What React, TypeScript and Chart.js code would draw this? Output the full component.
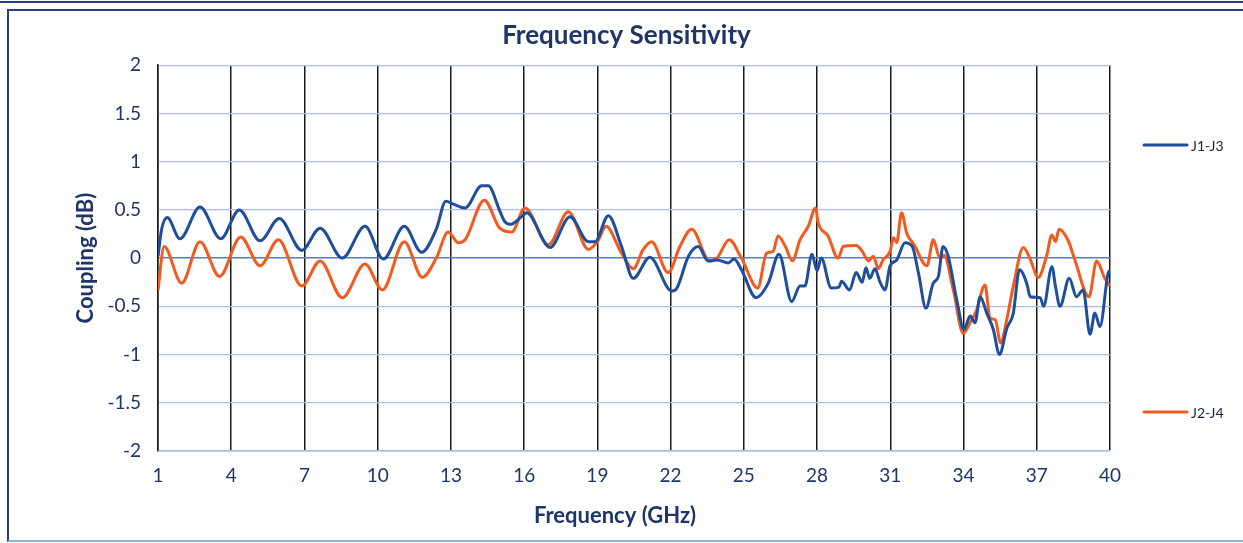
import React, { useEffect, useRef } from "react";
import { Chart, registerables } from "chart.js";

Chart.register(...registerables);

const chartTitle = "Frequency Sensitivity";
const xAxisTitle = "Frequency (GHz)";
const yAxisTitle = "Coupling (dB)";
const xTicks = [1, 4, 7, 10, 13, 16, 19, 22, 25, 28, 31, 34, 37, 40];
const yMin = -2;
const yMax = 2;
const yStep = 0.5;

const j13Label = "J1-J3";
const j13Freq = [
  1.0, 1.15, 1.38, 1.9, 2.72, 3.57, 4.33, 5.18, 5.97, 6.89, 7.64, 8.55, 9.48, 10.23, 11.09, 11.8,
  12.4, 12.79, 13.1, 13.58, 14.26, 14.53, 15.0, 15.2, 15.42, 15.9, 16.1, 17.06, 17.88, 18.63,
  18.9, 19.45, 19.99, 20.47, 21.15, 22.04, 22.2, 22.73, 23.13, 23.54, 23.9, 24.36, 24.6, 24.9,
  25.5, 26.0, 26.44, 26.96, 27.3, 27.5, 27.79, 28.0, 28.17, 28.58, 28.9, 29.0, 29.33, 29.6,
  29.85, 30.0, 30.16, 30.37, 30.58, 30.78, 30.99, 31.26, 31.6, 31.9, 32.15, 32.46, 32.76, 32.97,
  33.16, 33.37, 33.72, 34.02, 34.27, 34.47, 34.68, 34.95, 35.22, 35.47, 35.77, 36.04, 36.29,
  36.6, 36.73, 37.14, 37.28, 37.62, 37.77, 37.95, 38.33, 38.63, 38.9, 39.18, 39.38, 39.59,
  39.93, 40.0,
];
const j13Coupling = [
  0.02, 0.3, 0.42, 0.2, 0.53, 0.2, 0.5, 0.18, 0.41, 0.08, 0.31, 0.0, 0.33, -0.01, 0.33, 0.06,
  0.3, 0.59, 0.56, 0.52, 0.75, 0.75, 0.49, 0.38, 0.35, 0.43, 0.47, 0.11, 0.43, 0.17,
  0.17, 0.44, 0.12, -0.21, 0.01, -0.34, -0.33, 0.02, 0.12, -0.03, -0.02, -0.05, -0.01, -0.12,
  -0.41, -0.26, 0.04, -0.45, -0.29, -0.29, 0.04, -0.13, 0.0, -0.31, -0.3, -0.24, -0.33, -0.15,
  -0.25, -0.1, -0.21, -0.11, -0.25, -0.33, -0.08, -0.02, 0.16, 0.12, -0.15, -0.52, -0.26, -0.19,
  0.12, 0.02, -0.43, -0.74, -0.6, -0.67, -0.4, -0.57, -0.74, -1.0, -0.73, -0.57, -0.12,
  -0.27, -0.4, -0.41, -0.5, -0.09, -0.3, -0.5, -0.21, -0.4, -0.33, -0.79, -0.57, -0.71,
  -0.15, -0.13,
];

const j24Label = "J2-J4";
const j24Freq = [
  1.0, 1.25, 1.97, 2.72, 3.52, 4.39, 5.18, 5.93, 6.89, 7.64, 8.55, 9.48, 10.19, 11.09, 11.83,
  12.4, 12.89, 13.3, 13.58, 14.37, 15.0, 15.49, 16.03, 16.99, 17.81, 18.63, 19.0, 19.36, 19.95,
  20.47, 20.88, 21.22, 21.9, 22.38, 22.86, 23.6, 23.9, 24.4, 24.9, 25.57, 25.93, 26.2, 26.4,
  26.7, 26.99, 27.3, 27.64, 27.94, 28.04, 28.45, 28.86, 29.07, 29.6, 29.85, 30.1, 30.3, 30.51,
  30.7, 30.99, 31.13, 31.26, 31.46, 31.67, 31.97, 32.5, 32.76, 33.03, 33.2, 33.58, 33.99,
  34.27, 34.52, 34.88, 35.08, 35.3, 35.52, 35.77, 36.04, 36.45, 36.73, 37.06, 37.4, 37.62,
  37.77, 37.91, 38.29, 38.56, 39.14, 39.45, 39.79, 40.0,
];
const j24Coupling = [
  -0.33, 0.12, -0.26, 0.17, -0.19, 0.22, -0.08, 0.19, -0.29, -0.03, -0.41, -0.06, -0.33, 0.17, -0.2,
  0.0, 0.27, 0.16, 0.19, 0.6, 0.31, 0.27, 0.52, 0.14, 0.48, 0.09, 0.17, 0.33, 0.07,
  -0.11, 0.09, 0.17, -0.15, 0.12, 0.3, -0.03, 0.0, 0.19, 0.0, -0.31, 0.05, 0.07, 0.23,
  0.12, -0.03, 0.19, 0.33, 0.52, 0.37, 0.23, 0.0, 0.12, 0.13, 0.07, -0.03, 0.02, -0.11,
  -0.02, 0.07, 0.21, 0.16, 0.47, 0.26, 0.14, -0.08, 0.19, 0.0, 0.03, -0.33, -0.78,
  -0.67, -0.55, -0.28, -0.62, -0.64, -0.88, -0.64, -0.29, 0.11, -0.01, -0.2, 0.02, 0.24,
  0.17, 0.3, 0.18, -0.02, -0.4, -0.03, -0.21, -0.29,
];

const BLUE = "#1f4e9c";
const ORANGE = "#f25a1f";
const NAVY = "#1f3468";
const FONT = "Lato, 'Open Sans', sans-serif";

const sideLegend = {
  id: "sideLegend",
  afterDraw(chart: any) {
    const ctx = chart.ctx;
    const rows = [
      { y: 133, color: BLUE, text: j13Label },
      { y: 400, color: ORANGE, text: j24Label },
    ];
    ctx.save();
    rows.forEach((r) => {
      ctx.strokeStyle = r.color;
      ctx.lineWidth = 3;
      ctx.lineCap = "round";
      ctx.beginPath();
      ctx.moveTo(1134, r.y);
      ctx.lineTo(1177, r.y);
      ctx.stroke();
      ctx.fillStyle = "#1c2446";
      ctx.font = `14px ${FONT}`;
      ctx.textBaseline = "middle";
      ctx.textAlign = "left";
      ctx.fillText(r.text, 1181, r.y + 1);
    });
    // x-axis title, centred slightly left of the plot centre as in the source
    ctx.fillStyle = NAVY;
    ctx.font = `bold 22px ${FONT}`;
    ctx.textAlign = "center";
    ctx.textBaseline = "middle";
    ctx.fillText(xAxisTitle, 605, 504);
    ctx.restore();
  },
};

export default function App() {
  const ref = useRef<HTMLCanvasElement | null>(null);

  useEffect(() => {
    if (!ref.current) return;
    const chart = new Chart(ref.current, {
      type: "line",
      data: {
        datasets: [
          {
            label: j13Label,
            data: j13Freq.map((x, i) => ({ x, y: j13Coupling[i] })),
            borderColor: BLUE,
            backgroundColor: BLUE,
            borderWidth: 3,
            pointRadius: 0,
            cubicInterpolationMode: "monotone",
            fill: false,
          },
          {
            label: j24Label,
            data: j24Freq.map((x, i) => ({ x, y: j24Coupling[i] })),
            borderColor: ORANGE,
            backgroundColor: ORANGE,
            borderWidth: 3,
            pointRadius: 0,
            cubicInterpolationMode: "monotone",
            fill: false,
          },
        ],
      },
      options: {
        animation: false,
        responsive: false,
        devicePixelRatio: 1,
        layout: { padding: 0 },
        plugins: {
          legend: { display: false },
          tooltip: { enabled: false },
          title: {
            display: true,
            text: chartTitle,
            color: NAVY,
            font: { family: FONT, size: 26, weight: "bold" },
            padding: { top: 8, bottom: 14 },
          },
        },
        scales: {
          x: {
            type: "linear",
            min: xTicks[0],
            max: xTicks[xTicks.length - 1],
            afterBuildTicks: (s: any) => {
              s.ticks = xTicks.map((v) => ({ value: v }));
            },
            afterFit: (s: any) => {
              s.height = 89;
            },
            grid: { color: "#1a1a1a", lineWidth: 1.5, drawTicks: false },
            border: { color: "#a9b9e3", width: 1.5 },
            ticks: {
              color: NAVY,
              font: { family: FONT, size: 19 },
              padding: 13,
              maxRotation: 0,
              autoSkip: false,
            },
            title: { display: false, text: xAxisTitle },
          },
          y: {
            min: yMin,
            max: yMax,
            afterFit: (s: any) => {
              s.width = 148;
            },
            grid: {
              color: (c: any) => (c.tick && c.tick.value === 0 ? "#5b7db5" : "#aebde6"),
              lineWidth: (c: any) => (c.tick && c.tick.value === 0 ? 1.6 : 1.2),
              drawTicks: false,
            },
            border: { color: "#1a1a1a", width: 1.5 },
            ticks: {
              stepSize: yStep,
              color: NAVY,
              font: { family: FONT, size: 19 },
              padding: 17,
              callback: (v: any) => String(v),
            },
            title: {
              display: true,
              text: yAxisTitle,
              color: NAVY,
              font: { family: FONT, size: 22, weight: "bold" },
              padding: { top: 63, bottom: 0 },
            },
          },
          ySpacer: {
            type: "linear",
            position: "right",
            display: true,
            min: yMin,
            max: yMax,
            afterFit: (s: any) => {
              s.width = 133;
            },
            grid: { display: false, drawOnChartArea: false },
            border: { display: false },
            ticks: { display: false },
          },
        },
      },
      plugins: [sideLegend],
    } as any);
    return () => chart.destroy();
  }, []);

  return (
    <div
      style={{
        position: "absolute",
        left: 0,
        top: 0,
        width: 1243,
        height: 543,
        background: "#ffffff",
        overflow: "hidden",
      }}
    >
      <div
        style={{
          position: "absolute",
          left: 0,
          top: 1,
          width: 1243,
          height: 2,
          background: "#2a3c7c",
        }}
      />
      <div
        style={{
          position: "absolute",
          left: 7,
          top: 9,
          width: 1260,
          height: 529,
          borderLeft: "2px solid #2b3d80",
          borderTop: "2px solid #2b3d80",
          borderBottom: "2px solid #8fb4dc",
        }}
      />
      <canvas
        ref={ref}
        width={1233}
        height={528}
        style={{ position: "absolute", left: 10, top: 12, width: 1233, height: 528 }}
      />
    </div>
  );
}
